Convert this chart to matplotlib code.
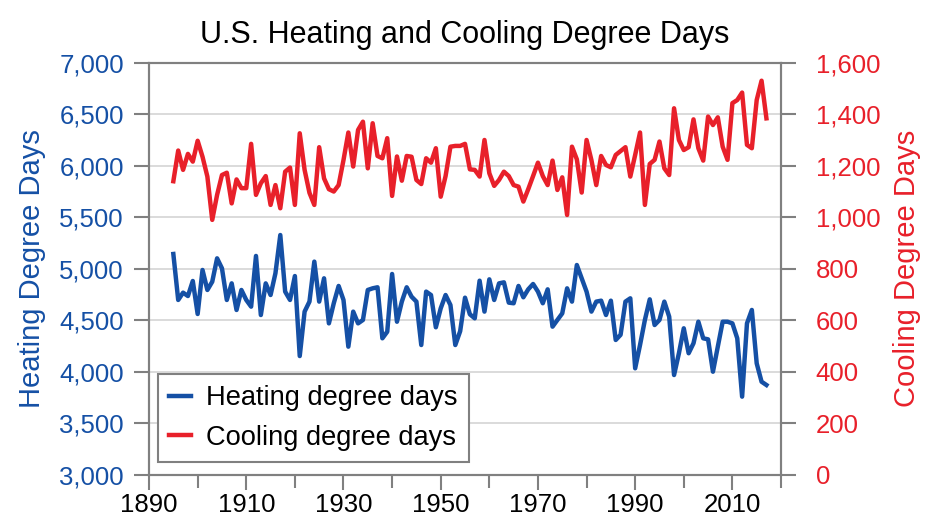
# Grados-día de calefacción y refrigeración en EE. UU.
import matplotlib.pyplot as plt
import numpy as np
from matplotlib.ticker import FuncFormatter, MultipleLocator, FixedLocator

plt.rcParams['font.family'] = ['Liberation Sans', 'DejaVu Sans']

# Datos (1895-2017)
years = np.arange(1895, 2018)

heating = [
    5144, 4698, 4769, 4736, 4882,                                  # 1895-1899
    4562, 4989, 4795, 4875, 5102, 5005, 4698, 4859, 4601, 4795,    # 1900s
    4698, 4633, 5125, 4552, 4859, 4746, 4957, 5328, 4779, 4698,    # 1910s
    4930, 4154, 4585, 4682, 5070, 4682, 4908, 4471, 4666, 4834,    # 1920s
    4698, 4245, 4585, 4471, 4504, 4795, 4811, 4821, 4326, 4390,    # 1930s
    4950, 4487, 4682, 4821, 4730, 4682, 4261, 4779, 4746, 4433,    # 1940s
    4617, 4746, 4649, 4261, 4395, 4720, 4559, 4520, 4885, 4585,    # 1950s
    4898, 4698, 4859, 4869, 4672, 4666, 4834, 4724, 4801, 4853,    # 1960s
    4779, 4666, 4801, 4439, 4504, 4568, 4811, 4682, 5037, 4908,    # 1970s
    4779, 4585, 4682, 4691, 4552, 4691, 4310, 4360, 4682, 4714,    # 1980s
    4035, 4261, 4504, 4704, 4455, 4504, 4682, 4536, 3970, 4181,    # 1990s
    4423, 4181, 4278, 4487, 4326, 4316, 4002, 4245, 4487, 4487,    # 2000s
    4471, 4326, 3760, 4471, 4601, 4083, 3905, 3873,                # 2010s
]

cooling = [
    1140, 1259, 1184, 1246, 1216,                                  # 1895-1899
    1297, 1235, 1158, 990, 1087, 1164, 1173, 1054, 1147, 1113,     # 1900s
    1113, 1285, 1087, 1132, 1160, 1048, 1125, 1035, 1177, 1193,    # 1910s
    1048, 1326, 1184, 1095, 1048, 1272, 1151, 1109, 1100, 1125,    # 1920s
    1222, 1329, 1197, 1339, 1371, 1190, 1365, 1238, 1229, 1307,    # 1930s
    1083, 1236, 1142, 1238, 1235, 1145, 1129, 1229, 1212, 1268,    # 1940s
    1080, 1160, 1274, 1277, 1277, 1285, 1186, 1184, 1158, 1300,    # 1950s
    1171, 1122, 1145, 1177, 1160, 1125, 1119, 1061, 1109, 1160,    # 1960s
    1212, 1160, 1125, 1220, 1106, 1155, 1009, 1274, 1225, 1096,    # 1970s
    1300, 1222, 1125, 1238, 1203, 1194, 1242, 1257, 1272, 1158,    # 1980s
    1242, 1329, 1048, 1207, 1223, 1294, 1190, 1164, 1423, 1300,    # 1990s
    1261, 1272, 1380, 1268, 1220, 1391, 1358, 1388, 1274, 1223,    # 2000s
    1443, 1455, 1484, 1281, 1268, 1455, 1530, 1384,                # 2010s
]

xticks = [1890, 1910, 1930, 1950, 1970, 1990, 2010]
xminor = [1900, 1920, 1940, 1960, 1980, 2000, 2020]

azul = '#1550a5'
rojo = '#e8202a'
gris = '#808080'

fig = plt.figure(figsize=(9.35, 5.21), dpi=100)
ax = fig.add_axes([0.1594, 0.0883, 0.6759, 0.7914])
ax2 = ax.twinx()

l1, = ax.plot(years, heating, color=azul, lw=3.2, label='Heating degree days', zorder=3)
l2, = ax2.plot(years, cooling, color=rojo, lw=3.2, label='Cooling degree days', zorder=3)

# Ejes
ax.set_xlim(1890, 2020)
ax.set_ylim(3000, 7000)
ax2.set_ylim(0, 1600)
ax.xaxis.set_major_locator(FixedLocator(xticks))
ax.xaxis.set_minor_locator(FixedLocator(xminor))
ax.yaxis.set_major_locator(MultipleLocator(500))
ax2.yaxis.set_major_locator(MultipleLocator(200))
miles = FuncFormatter(lambda v, p: f'{int(v):,}')
ax.yaxis.set_major_formatter(miles)
ax2.yaxis.set_major_formatter(miles)

ax.grid(axis='y', color='#d4d4d4', lw=1.2)
ax.set_axisbelow(True)

for a in (ax, ax2):
    for s in a.spines.values():
        s.set_color(gris)
        s.set_linewidth(1.5)

ax.tick_params(axis='x', which='major', length=11, width=1.5, color=gris,
               labelsize=18.5, pad=2)
ax.tick_params(axis='x', which='minor', length=9, width=1.5, color=gris)
ax.tick_params(axis='y', length=11, width=1.5, color=gris, labelsize=18.5,
               labelcolor=azul, pad=7)
ax2.tick_params(axis='y', length=11, width=1.5, color=gris, labelsize=18.5,
                labelcolor=rojo, pad=14)

ax.set_ylabel('Heating Degree Days', color=azul, fontsize=21)
ax.yaxis.set_label_coords(-0.163, 0.5)
ax2.set_ylabel('Cooling Degree Days', color=rojo, fontsize=21)
ax2.yaxis.set_label_coords(1.178, 0.5)

ax.set_title('U.S. Heating and Cooling Degree Days', fontsize=22, pad=14)

leg = ax.legend([l1, l2], ['Heating degree days', 'Cooling degree days'],
                loc='lower left', bbox_to_anchor=(0.014, 0.031), fontsize=19.6,
                frameon=True, fancybox=False, edgecolor=gris, framealpha=1,
                handlelength=0.8, handletextpad=0.55, borderpad=0.42,
                labelspacing=0.5, borderaxespad=0)
leg.get_frame().set_linewidth(1.5)
leg.set_zorder(5)

fig.savefig('out.png', dpi=100)
